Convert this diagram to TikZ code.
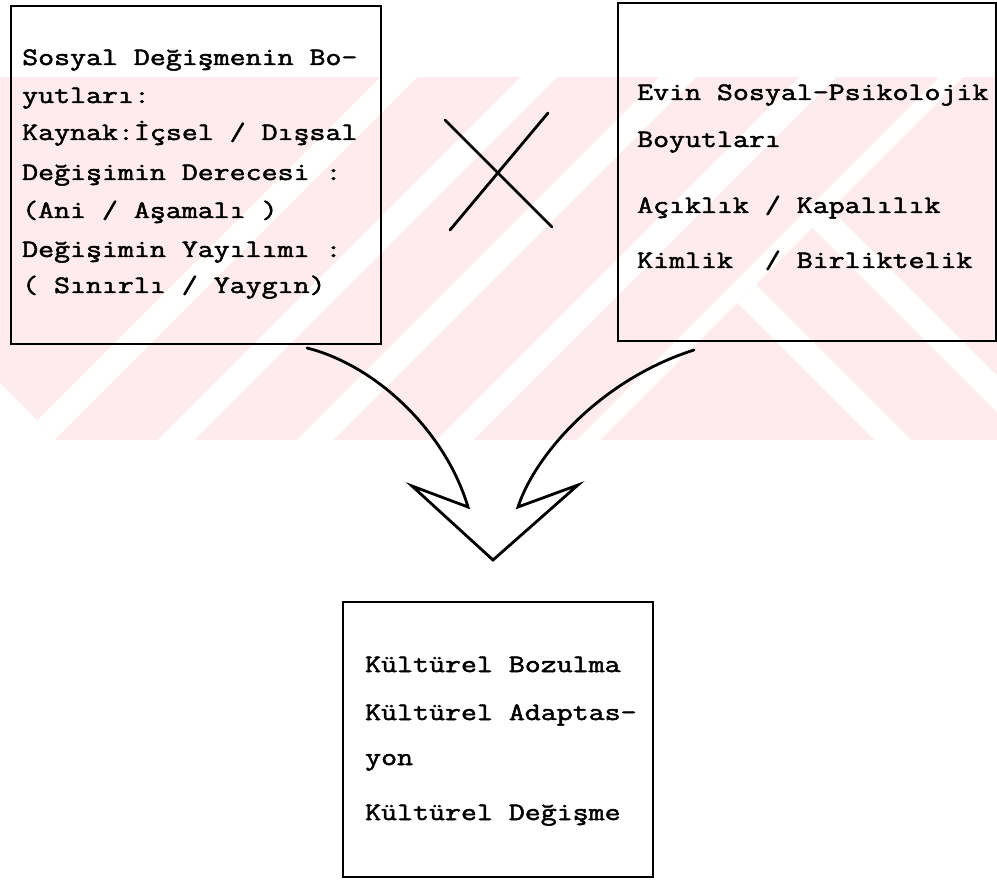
\documentclass[tikz,border=0pt]{standalone}
\usepackage{fontspec}
\newfontfamily\tw{Latin Modern Mono}[FakeStretch=1.24, FakeBold=2]
\definecolor{wm}{RGB}{253,235,238}
\begin{document}
\begin{tikzpicture}[x=1pt,y=1pt,
  box/.style={draw=black, line width=2.4pt, inner sep=0pt, anchor=north west},
  txt/.style={anchor=base west, inner sep=0pt, font=\tw\fontsize{25}{30}\selectfont},
  ink/.style={line width=2.8pt, line cap=round, line join=miter},
  stripe/.style={white, line width=26pt}]
\useasboundingbox (0,0) rectangle (997,-885);
% watermark band
\begin{scope}
  \clip (0,-77) -- (997,-77) -- (997,-440) -- (57,-440) -- (0,-383) -- cycle;
  \fill[wm] (0,-77) rectangle (997,-440);
  \begin{scope}
    \clip (0,-77) -- (963,-77) -- (600,-440) -- (0,-440) -- cycle;
    \foreach \xb in {36,176,315,455,595}
      \draw[stripe] (\xb-60,-500) -- (\xb+423,-17);
  \end{scope}
  \begin{scope}
    \clip (963,-77) -- (997,-77) -- (997,-440) -- (600,-440) -- cycle;
    \foreach \xc in {793,943}
      \draw[stripe] (\xc-330,-10) -- (\xc+160,-500);
  \end{scope}
\end{scope}
% boxes
\node[box, minimum width=370pt, minimum height=338pt] (L) at (10,-5) {};
\node[box, minimum width=378pt, minimum height=338pt] (R) at (617,-2) {};
\node[box, minimum width=310pt, minimum height=275pt] (B) at (342,-601) {};
% left text
\node[txt] (l1) at (22,-65)  {Sosyal Değişmenin Bo-};
\node[txt] (l2) at (22,-103) {yutları:};
\node[txt] (l3) at (22,-140) {Kaynak:İçsel / Dışsal};
\node[txt] (l4) at (22,-180) {Değişimin Derecesi :};
\node[txt] (l5) at (22,-218) {(Ani / Aşamalı )};
\node[txt] (l6) at (22,-257) {Değişimin Yayılımı :};
\node[txt] (l7) at (22,-293) {( Sınırlı / Yaygın)};
% right text
\node[txt] (r1) at (637,-100) {Evin Sosyal-Psikolojik};
\node[txt] (r2) at (637,-147) {Boyutları};
\node[txt] (r3) at (637,-213) {Açıklık / Kapalılık};
\node[txt] (r4) at (637,-268) {Kimlik\ \ / Birliktelik};
% bottom text
\node[txt] (b1) at (365,-672) {Kültürel Bozulma};
\node[txt] (b2) at (365,-720) {Kültürel Adaptas-};
\node[txt] (b3) at (365,-765) {yon};
\node[txt] (b4) at (365,-820) {Kültürel Değişme};
% cross
\coordinate (xa1) at (445,-120);
\coordinate (xa2) at (552,-227);
\coordinate (xb1) at (450,-230);
\coordinate (xb2) at (548,-113);
\draw[ink] (xa1) -- (xa2);
\draw[ink] (xb1) -- (xb2);
% merging arrow
\coordinate (ls) at (307,-348);
\coordinate (li) at (468,-507);
\coordinate (lb) at (412,-486);
\coordinate (tip) at (493,-560);
\coordinate (rb) at (578,-485);
\coordinate (ri) at (518,-507);
\coordinate (rs) at (694,-350);
\draw[ink] (ls) .. controls (375,-365) and (445,-430) .. (li) -- (lb) -- (tip) -- (rb) -- (ri)
  .. controls (535,-455) and (600,-380) .. (rs);
\end{tikzpicture}
\end{document}
